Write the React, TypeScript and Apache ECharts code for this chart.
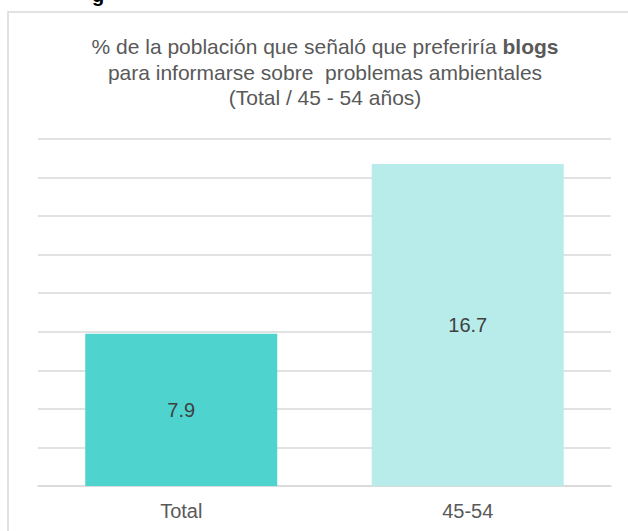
import React, { useEffect, useRef } from "react";
import * as echarts from "echarts";

const categories = ["Total", "45-54"];
const values = [7.9, 16.7];
const barColors = ["#4fd3cf", "#b8ecea"];
const titleLines = [
  "% de la población que señaló que preferiría ",
  "blogs",
  "para informarse sobre  problemas ambientales",
  "(Total / 45 - 54 años)",
];

const FONT = "'Liberation Sans', Arial, sans-serif";

export default function App() {
  const ref = useRef<HTMLDivElement>(null);
  useEffect(() => {
    document.body.style.margin = "0";
    const chart = echarts.init(ref.current!, null, { renderer: "svg" });
    chart.setOption({
      animation: false,
      backgroundColor: "#ffffff",
      grid: { left: 38, right: 17, top: 139, bottom: 45 },
      xAxis: {
        type: "category",
        data: categories,
        axisLine: { show: true, lineStyle: { color: "#d9d9d9", width: 1.5 } },
        axisTick: { show: false },
        axisLabel: { color: "#595959", fontSize: 20, fontFamily: FONT, margin: 15 },
      },
      yAxis: {
        type: "value",
        min: 0,
        max: 18,
        interval: 2,
        axisLine: { show: false },
        axisTick: { show: false },
        axisLabel: { show: false },
        splitLine: { lineStyle: { color: "#d9d9d9", width: 1.5 } },
      },
      series: [
        {
          type: "bar",
          barWidth: 192,
          data: values.map((v, i) => ({ value: v, itemStyle: { color: barColors[i] } })),
          label: {
            show: true,
            position: "inside",
            color: "#404040",
            fontSize: 20,
            fontFamily: FONT,
            formatter: (p: any) => p.value.toFixed(1),
          },
        },
      ],
      graphic: [
        {
          type: "rect",
          z: -1,
          shape: { x: 8, y: 12, width: 700, height: 600 },
          style: { fill: "none", stroke: "#d9d9d9", lineWidth: 1.5 },
        },
        {
          type: "text",
          x: 92,
          y: -15,
          style: { text: "g", fontSize: 20, fontWeight: "bold", fontFamily: FONT, fill: "#000000" },
        },
        {
          type: "text",
          x: 325,
          y: 34,
          style: {
            text:
              "{n|" + titleLines[0] + "}{b|" + titleLines[1] + "}\n{n|" + titleLines[2] + "}\n{n|" + titleLines[3] + "}",
            align: "center",
            verticalAlign: "top",
            rich: {
              n: { fontSize: 21, fontFamily: FONT, fill: "#595959", lineHeight: 25.5 },
              b: { fontSize: 21, fontFamily: FONT, fill: "#595959", fontWeight: "bold", lineHeight: 25.5 },
            },
          },
        },
      ],
    });
    return () => chart.dispose();
  }, []);
  return <div ref={ref} style={{ width: 628, height: 531 }} />;
}
